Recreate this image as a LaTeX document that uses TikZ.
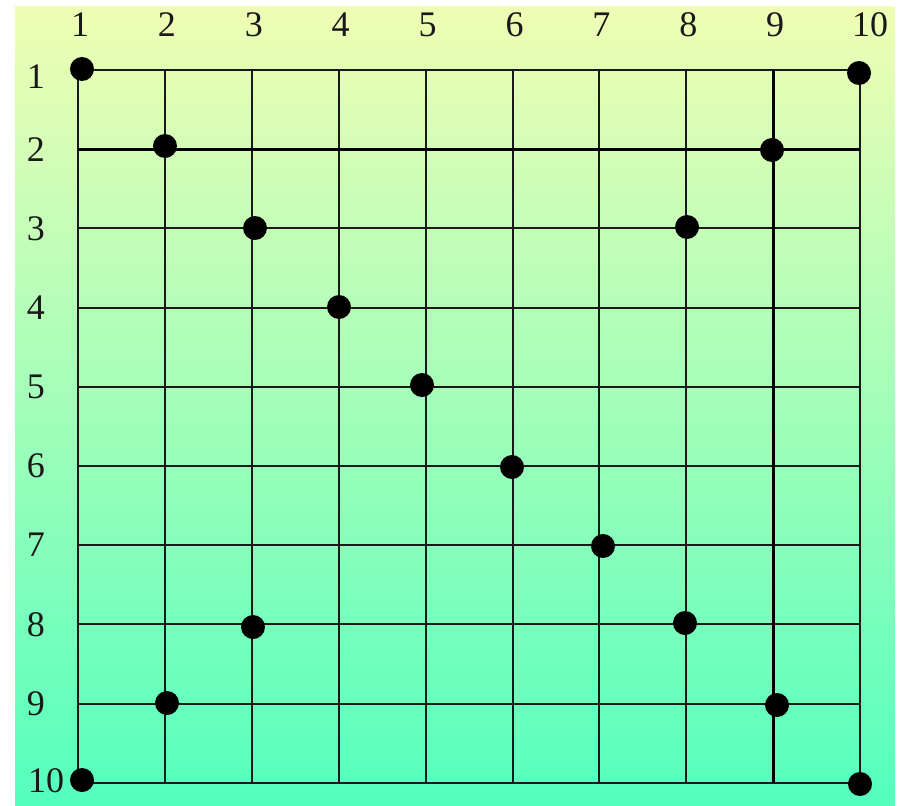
\documentclass[tikz,border=0pt]{standalone}
\usepackage{fontspec}
\setmainfont{Liberation Serif}
\begin{document}
\begin{tikzpicture}[x=1pt,y=-1pt,
  gridline/.style={draw=black!90, line width=2pt},
  boldline/.style={draw=black, line width=3.2pt},
  dot/.style={circle, fill=black, inner sep=0pt, minimum size=24pt},
  lab/.style={font=\fontsize{36}{36}\selectfont, inner sep=0pt, text=black!90}]
\useasboundingbox (0,0) rectangle (903,806);
\fill[white] (0,0) rectangle (903,806);
\shade[top color={rgb,255:red,240;green,253;blue,180}, bottom color={rgb,255:red,84;green,255;blue,190}] (15,6) rectangle (895,806);
% grid coordinates
\foreach \c in {1,...,10} {
  \foreach \r in {1,...,10} {
    \coordinate (g-\r-\c) at ({78+(\c-1)*86.9},{70+(\r-1)*79.2});
  }
}
% grid lines
\foreach \i in {1,3,4,5,6,7,8,9,10} {
  \draw[gridline] (g-\i-1) -- (g-\i-10);
}
\foreach \i in {1,2,3,4,5,6,7,8,10} {
  \draw[gridline] (g-1-\i) -- (g-10-\i);
}
\draw[boldline] (g-2-1) -- (g-2-10);
\draw[boldline] (g-1-9) -- (g-10-9);
% column labels
\foreach \c in {1,...,9} {
  \node[lab] (ct-\c) at ({80+(\c-1)*86.9},25) {\c};
}
\node[lab] (ct-10) at (870,25) {10};
% row labels
\node[lab] (rl-1) at (36,77) {1};
\foreach \r in {2,...,9} {
  \node[lab] (rl-\r) at (36,{70+(\r-1)*79.2}) {\r};
}
\node[lab] (rl-10) at (46,781) {10};
% dots
\node[dot] (d-1-1) at (82,69) {};
\node[dot] (d-1-10) at (859,73) {};
\node[dot] (d-2-2) at (165,146) {};
\node[dot] (d-2-9) at (772,150) {};
\node[dot] (d-3-3) at (255,228) {};
\node[dot] (d-3-8) at (687,227) {};
\node[dot] (d-4-4) at (339,307) {};
\node[dot] (d-5-5) at (422,385) {};
\node[dot] (d-6-6) at (512,467) {};
\node[dot] (d-7-7) at (603,546) {};
\node[dot] (d-8-3) at (253,627) {};
\node[dot] (d-8-8) at (685,623) {};
\node[dot] (d-9-2) at (167,703) {};
\node[dot] (d-9-9) at (777,705) {};
\node[dot] (d-10-1) at (82,780) {};
\node[dot] (d-10-10) at (860,784) {};
\end{tikzpicture}
\end{document}
